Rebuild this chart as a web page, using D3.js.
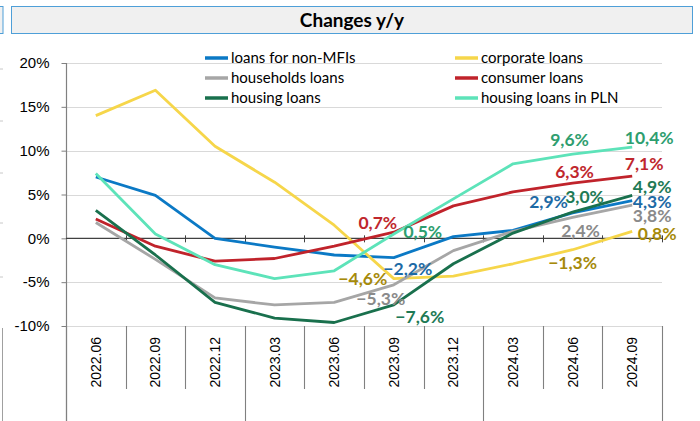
<!DOCTYPE html>
<html>
<head>
<meta charset="utf-8">
<script src="https://cdn.jsdelivr.net/npm/d3@7"></script>
<style>
  body { margin: 0; background: #fff; }
  svg { display: block; }
</style>
</head>
<body>
<script>
// categories and series (y/y change, %)
const categories = ["2022.06","2022.09","2022.12","2023.03","2023.06","2023.09","2023.12","2024.03","2024.06","2024.09"];
const nonMFI     = [7.0, 4.9, 0.0, -1.0, -1.9, -2.2, 0.2, 0.9, 2.9, 4.3];
const corporate  = [14.0, 16.9, 10.5, 6.4, 1.5, -4.6, -4.3, -2.9, -1.3, 0.8];
const households = [1.8, -2.4, -6.8, -7.6, -7.3, -5.3, -1.4, 0.8, 2.4, 3.8];
const consumer   = [2.2, -0.9, -2.6, -2.3, -0.9, 0.7, 3.7, 5.3, 6.3, 7.1];
const housing    = [3.2, -1.9, -7.3, -9.1, -9.6, -7.6, -2.9, 0.6, 3.0, 4.9];
const housingPLN = [7.4, 0.5, -3.0, -4.6, -3.7, 0.5, 4.5, 8.5, 9.6, 10.4];
const yTicks = [-10, -5, 0, 5, 10, 15, 20];

const width = 700, height = 421;
const margin = {top: 63, left: 66, right: 38, bottom: 95};

const series = [
  {key: "nonMFI", name: "loans for non-MFIs", values: nonMFI, color: "#0b79c5", label: "#1d6aa5"},
  {key: "corporate", name: "corporate loans", values: corporate, color: "#f6d64a", label: "#a68a0a"},
  {key: "households", name: "households loans", values: households, color: "#a6a6a6", label: "#8a8a8a"},
  {key: "consumer", name: "consumer loans", values: consumer, color: "#c0232b", label: "#c0272d"},
  {key: "housing", name: "housing loans", values: housing, color: "#19704d", label: "#1e7a55"},
  {key: "housingPLN", name: "housing loans in PLN", values: housingPLN, color: "#5de3b9", label: "#2e9e6f"}
];

// which points get a data label, and where it sits relative to the point
const labels = [
  ["consumer", 5, -16, -9], ["housingPLN", 5, 29, -2], ["nonMFI", 5, 14, 11],
  ["corporate", 5, -31, 0], ["households", 5, -13, 14], ["housing", 5, 26, 12],
  ["housingPLN", 8, -3, -14], ["housingPLN", 9, 17, -9],
  ["consumer", 8, 2, -11], ["consumer", 9, 12, -12],
  ["housing", 8, 12, -15], ["housing", 9, 20, -9],
  ["nonMFI", 8, -24, -11], ["nonMFI", 9, 20, 1],
  ["households", 8, 8, 13], ["households", 9, 20, 11],
  ["corporate", 8, 0, 13], ["corporate", 9, 25, 2]
];

const svg = d3.select("body").append("svg")
  .attr("width", width).attr("height", height);

// bits of the neighbouring chart cut off on the left
svg.append("rect").attr("x", -10).attr("y", 6.5).attr("width", 13).attr("height", 27)
  .attr("fill", "#f0f0f0").attr("stroke", "#4e9fd8");
svg.append("g").selectAll("line").data([69, 121, 173, 223, 277])
  .join("line").attr("x1", 0).attr("x2", 3).attr("y1", d => d).attr("y2", d => d)
  .attr("stroke", "#c8c8c8");
svg.append("line").attr("x1", 2.5).attr("x2", 2.5).attr("y1", 328).attr("y2", height)
  .attr("stroke", "#a0a0a0");

// title box
svg.append("rect").attr("x", 11.5).attr("y", 6.5).attr("width", 681).attr("height", 27)
  .attr("fill", "#f0f0f0").attr("stroke", "#4e9fd8");
svg.append("text").attr("x", 352).attr("y", 20).attr("dy", "0.35em")
  .attr("text-anchor", "middle")
  .style("font-family", "Lato, 'Open Sans', sans-serif").style("font-weight", 700)
  .style("font-size", "19px").attr("fill", "#000").text("Changes y/y");

const x = d3.scaleBand().domain(categories).range([margin.left, width - margin.right]);
const y = d3.scaleLinear().domain([-10, 20]).range([height - margin.bottom, margin.top]);
const cx = i => x(categories[i]) + x.bandwidth() / 2;

// gridlines
svg.append("g").selectAll("line").data(yTicks.filter(d => d !== 0))
  .join("line")
  .attr("x1", margin.left).attr("x2", width - margin.right)
  .attr("y1", d => Math.round(y(d)) + 0.5).attr("y2", d => Math.round(y(d)) + 0.5)
  .attr("stroke", "#d9d9d9");

// y axis
const yAxis = svg.append("g").attr("transform", `translate(${margin.left + 0.5},0)`)
  .call(d3.axisLeft(y).tickValues(yTicks).tickSize(5).tickPadding(12).tickFormat(d => d + "%"));
yAxis.select(".domain").remove();
yAxis.selectAll(".tick line").attr("stroke", "#808080");
yAxis.selectAll(".tick text")
  .style("font-family", "'Liberation Sans', Arial, sans-serif").style("font-size", "15px")
  .attr("fill", "#000");
svg.append("line").attr("x1", margin.left + 0.5).attr("x2", margin.left + 0.5)
  .attr("y1", y(20)).attr("y2", height).attr("stroke", "#808080").attr("stroke-width", 1.2);

// zero line with ticks at band edges
const edges = categories.map(c => x(c)).concat([width - margin.right]);
svg.append("line").attr("x1", margin.left).attr("x2", width - margin.right)
  .attr("y1", y(0)).attr("y2", y(0)).attr("stroke", "#404040").attr("stroke-width", 1.2);
svg.append("g").selectAll("line").data(edges.slice(1))
  .join("line").attr("x1", d => Math.round(d) + 0.5).attr("x2", d => Math.round(d) + 0.5)
  .attr("y1", y(0) - 3).attr("y2", y(0) + 4).attr("stroke", "#404040");

// category separators and labels at the bottom
const yBase = y(-10);
svg.append("g").selectAll("line").data(edges)
  .join("line")
  .attr("x1", d => Math.round(d) + 0.5).attr("x2", d => Math.round(d) + 0.5)
  .attr("y1", yBase)
  .attr("y2", (d, i) => (i === 0 || i === edges.length - 1 || i % 4 === 3) ? height : yBase + 63)
  .attr("stroke", "#808080").attr("stroke-width", 1.1);
svg.append("g").selectAll("text").data(categories)
  .join("text")
  .attr("transform", d => `translate(${x(d) + x.bandwidth() / 2 + 5},${yBase + 11}) rotate(-90)`)
  .attr("text-anchor", "end")
  .style("font-family", "'Liberation Sans', Arial, sans-serif").style("font-size", "14px")
  .attr("fill", "#000").text(d => d);

// lines
const line = d3.line().x((d, i) => cx(i)).y(d => y(d));
svg.append("g").selectAll("path").data(series)
  .join("path")
  .attr("d", d => line(d.values))
  .attr("fill", "none").attr("stroke", d => d.color)
  .attr("stroke-width", 2.8).attr("stroke-linejoin", "round");

// legend
const legend = svg.append("g");
series.forEach((s, i) => {
  const col = i % 2, row = Math.floor(i / 2);
  const lx = col === 0 ? 205 : 455, ly = 58 + row * 20;
  legend.append("line").attr("x1", lx).attr("x2", lx + 23).attr("y1", ly).attr("y2", ly)
    .attr("stroke", s.color).attr("stroke-width", 3.5);
  legend.append("text").attr("x", lx + 26).attr("y", ly).attr("dy", "0.35em")
    .style("font-family", "Lato, 'Open Sans', sans-serif").style("font-size", "15px")
    .attr("fill", "#000").text(s.name);
});

// data labels
const byKey = Object.fromEntries(series.map(s => [s.key, s]));
svg.append("g").selectAll("text").data(labels)
  .join("text")
  .attr("x", d => cx(d[1]) + d[2])
  .attr("y", d => y(byKey[d[0]].values[d[1]]) + d[3])
  .attr("dy", "0.36em").attr("text-anchor", "middle")
  .style("font-family", "Lato, 'Open Sans', sans-serif").style("font-weight", 700)
  .style("font-size", "17.5px")
  .attr("fill", d => byKey[d[0]].label)
  .text(d => d3.format(".1f")(byKey[d[0]].values[d[1]]).replace(".", ",") + "%");
</script>
</body>
</html>
